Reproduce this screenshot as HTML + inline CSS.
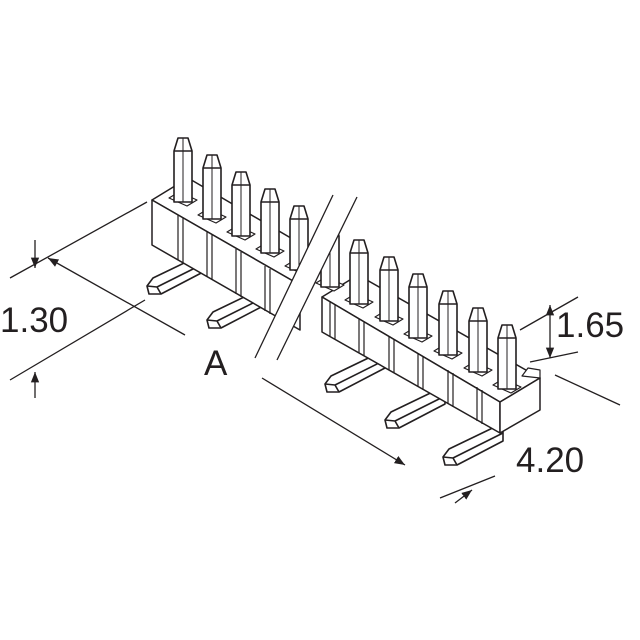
<!DOCTYPE html>
<html><head><style>
html,body{margin:0;padding:0;background:#fff;}
svg{display:block;}
text{font-family:"Liberation Sans",sans-serif;fill:#231f20;}
</style></head><body>
<svg width="640" height="640" viewBox="0 0 640 640" xmlns="http://www.w3.org/2000/svg">
<defs>
<marker id="ar" viewBox="0 0 10 10" refX="10" refY="5" markerWidth="8" markerHeight="8" orient="auto-start-reverse"><path d="M0,1 L10,5 L0,9 z" fill="#231f20"/></marker>
<g id="pin" fill="#fff" stroke="#231f20" stroke-width="1.6" stroke-linejoin="round">
<path d="M-14,60 L-4,54 L14,62 L4,68 Z" stroke-width="1.2"/>
<path d="M-9,13 L-5,0 L5,0 L9,13 L9,64 L-9,64 Z"/>
<line x1="-9" y1="13" x2="9" y2="13"/>
<line x1="0" y1="0" x2="0" y2="64" stroke-width="1"/>
</g>
<g id="tail" fill="#fff" stroke="#231f20" stroke-width="1.6" stroke-linejoin="round">
<path d="M0,2 L6,-6 L60,-32 L60,-14 L14,10 L2,10 Z"/>
<path d="M0,2 L10,3 L14,10 M10,3 L60,-22"/>
</g>
</defs>
<!-- tails (behind body) -->
<use href="#tail" x="147" y="284"/><use href="#tail" x="207" y="318"/><use href="#tail" x="325" y="382"/><use href="#tail" x="385" y="418"/><use href="#tail" x="443" y="455"/>
<g stroke="#231f20" stroke-width="1.5" fill="#fff" stroke-linejoin="round">
<!-- left block -->
<path d="M152,200 L188,178 L320,255 L300,285 Z"/>
<path d="M152,200 L300,285 L300,330 L152,245 Z"/>
<!-- right block -->
<path d="M322,297 L358,275 L540,378 L500,402 Z"/>
<path d="M322,297 L500,402 L500,433 L322,332 Z"/>
<path d="M500,402 L540,378 L540,410 L500,433 Z"/>
<path d="M522,376 L528,368 L540,370 L540,378 Z" stroke-width="1.2"/>
</g>
<g stroke="#231f20" stroke-width="1.2">
<path d="M178,215 V260 M183,218 V263 M207,232 V277 M212,235 V280 M236,249 V294 M241,252 V297 M265,266 V311 M270,269 V314"/>
<path d="M330,302 V336 M335,305 V339 M359,319 V353 M364,322 V356 M389,336 V370 M394,339 V373 M418,353 V387 M423,356 V390 M448,370 V404 M453,373 V407 M477,387 V421 M482,390 V424"/>
</g>
<use href="#pin" x="183" y="138"/><use href="#pin" x="212" y="155"/><use href="#pin" x="241" y="172"/><use href="#pin" x="270" y="189"/><use href="#pin" x="299" y="206"/>
<use href="#pin" x="330" y="223"/><use href="#pin" x="359" y="240"/><use href="#pin" x="389" y="257"/><use href="#pin" x="418" y="274"/><use href="#pin" x="448" y="291"/><use href="#pin" x="478" y="308"/><use href="#pin" x="507" y="325"/>
<!-- break -->
<polygon points="255,358 333,195 357,197 277,360" fill="#fff"/>
<g stroke="#231f20" stroke-width="1.3" fill="none">
<line x1="255" y1="358" x2="333" y2="195"/><line x1="277" y1="360" x2="357" y2="197"/>
<!-- dimension lines -->
<line x1="10" y1="278" x2="147" y2="202"/>
<line x1="10" y1="380" x2="145" y2="300"/>
<line x1="35" y1="240" x2="35" y2="268" marker-end="url(#ar)"/>
<line x1="35" y1="398" x2="35" y2="372" marker-end="url(#ar)"/>
<line x1="185" y1="335" x2="48" y2="258" marker-end="url(#ar)"/>
<line x1="262" y1="378" x2="405" y2="465" marker-end="url(#ar)"/>
<line x1="520" y1="330" x2="578" y2="297"/>
<line x1="530" y1="362" x2="578" y2="352"/>
<line x1="550" y1="330" x2="550" y2="305" marker-end="url(#ar)"/>
<line x1="550" y1="330" x2="550" y2="358" marker-end="url(#ar)"/>
<line x1="555" y1="375" x2="620" y2="405"/>
<line x1="440" y1="498" x2="495" y2="476"/>
<line x1="455" y1="503" x2="472" y2="490" marker-end="url(#ar)"/>
</g>
<text x="0" y="332" font-size="35">1.30</text>
<text x="204" y="375" font-size="35">A</text>
<text x="556" y="337" font-size="35">1.65</text>
<text x="516" y="472" font-size="35">4.20</text>
</svg>
</body></html>
